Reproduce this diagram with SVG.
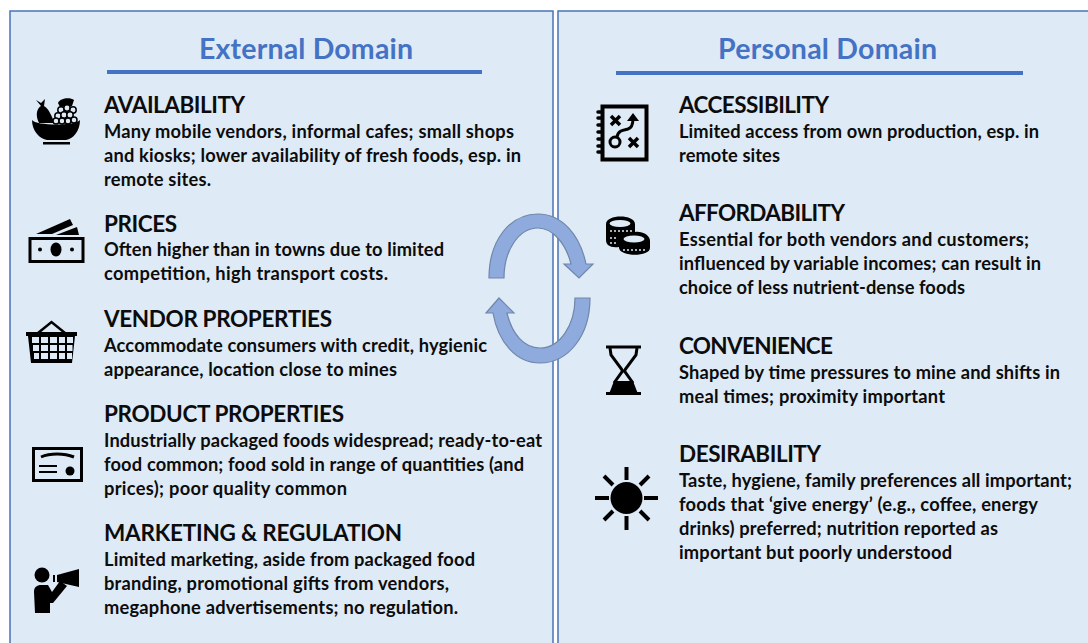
<svg xmlns="http://www.w3.org/2000/svg" width="1088" height="643" viewBox="0 0 1088 643">
<style>
text{font-family:"Lato","Open Sans","Liberation Sans",sans-serif;fill:#0c0c0c}
.t{font-size:28.500px;font-weight:700;fill:#4472c4;text-anchor:middle}
.h{font-size:22.500px;font-weight:700}
.b{font-size:18.300px;font-weight:700}
.p{fill:#deeaf6;stroke:#4a73b8;stroke-width:1.5}
.r{fill:#4472c4}
.a{fill:#8faadc;stroke:#6f87aa;stroke-width:1.2}
.k{fill:#000}
.w{fill:#deeaf6}
.s{fill:none;stroke:#000;stroke-width:3}
.g{fill:#deeaf6;stroke:#000;stroke-width:1.500}
</style>
<rect width="1088" height="643" fill="#fff"/>
<g id="external-panel"><rect class="p" x="10" y="11" width="543" height="640"/>
<text class="t" x="306" y="59" textLength="214">External Domain</text><rect class="r" x="107" y="70" width="375" height="4"/></g>
<g id="personal-panel"><rect class="p" x="558" y="11" width="540" height="640"/>
<text class="t" x="827.500" y="59" textLength="219">Personal Domain</text><rect class="r" x="616" y="71" width="407" height="4"/></g>
<g id="connectors">
<path class="a" d="M489 278C489 240 510 214 538 214C562 214 580 235 586 264L593 264L579 278L564 264L571 264C566 244 553 228 538 228C519 228 504 250 504 278Z"/>
<path class="a" d="M590 298C590 336 568 363 540 363C516 363 498 342 493 313L486 313L499 298L514 313L507 313C512 334 524 348 540 348C560 348 575 325 575 298Z"/>
</g>
<g id="availability">
<path class="k" d="M36 100L41 103L45 99L44 106C50 110 51 116 55 123L39 123C35 115 37 108 41 106Z"/>
<path class="k" d="M58 103C60 98 70 97 74 100L72 106L60 107Z"/>
<circle class="g" cx="61" cy="110" r="3.200"/><circle class="g" cx="67" cy="108" r="3.200"/><circle class="g" cx="73" cy="110" r="3.200"/><circle class="g" cx="58" cy="116" r="3.200"/><circle class="g" cx="64" cy="115" r="3.200"/><circle class="g" cx="70" cy="115" r="3.200"/><circle class="g" cx="56" cy="121" r="3"/><circle class="g" cx="62" cy="121" r="3"/><circle class="g" cx="68" cy="121" r="3"/><circle class="g" cx="74" cy="120" r="3"/>
<path class="k" d="M32 120C36 126 76 126 80 120C80 131 73 139 66 140L47 140C40 139 32 131 32 120Z"/>
<rect class="k" x="43" y="142" width="27" height="2.500"/>
<text class="h" x="104" y="113" textLength="141">AVAILABILITY</text>
<text class="b" x="104" y="138" textLength="410">Many mobile vendors, informal cafes; small shops</text>
<text class="b" x="104" y="162" textLength="417">and kiosks; lower availability of fresh foods, esp. in</text>
<text class="b" x="104" y="186" textLength="107">remote sites.</text>
</g>
<g id="prices">
<rect x="30" y="238.500" width="53" height="23" fill="none" stroke="#000" stroke-width="3"/>
<ellipse class="k" cx="56" cy="249.500" rx="5.500" ry="7"/><circle class="k" cx="40" cy="249.500" r="2"/><circle class="k" cx="72" cy="249.500" r="2"/>
<path class="k" d="M36 234L70 219L73 225L52 234ZM56 235L77 227L79 235Z"/>
<text class="h" x="104" y="232" textLength="73">PRICES</text>
<text class="b" x="104" y="256" textLength="340">Often higher than in towns due to limited</text>
<text class="b" x="104" y="280" textLength="284">competition, high transport costs.</text>
</g>
<g id="vendor-properties">
<path class="k" d="M26 332H77V336H75L72 363H31L28 336H26Z"/>
<g class="w"><rect x="32" y="337" width="7" height="6"/><rect x="41" y="337" width="7" height="6"/><rect x="50" y="337" width="7" height="6"/><rect x="59" y="337" width="6" height="6"/><rect x="67" y="337" width="6" height="6"/><rect x="33" y="345" width="6" height="6"/><rect x="41" y="345" width="7" height="6"/><rect x="50" y="345" width="7" height="6"/><rect x="59" y="345" width="6" height="6"/><rect x="67" y="345" width="5.500" height="6"/><rect x="34" y="353" width="5" height="6"/><rect x="41" y="353" width="7" height="6"/><rect x="50" y="353" width="7" height="6"/><rect x="59" y="353" width="6" height="6"/><rect x="67" y="353" width="5" height="6"/></g>
<path d="M38 333L51.500 322L65 333" fill="none" stroke="#000" stroke-width="2.500"/>
<text class="h" x="104" y="327" textLength="228">VENDOR PROPERTIES</text>
<text class="b" x="104" y="352" textLength="383">Accommodate consumers with credit, hygienic</text>
<text class="b" x="104" y="376" textLength="293">appearance, location close to mines</text>
</g>
<g id="product-properties">
<rect class="s" x="33.500" y="448.500" width="48" height="32"/>
<path d="M41 457C50 453 64 453 74 457" fill="none" stroke="#000" stroke-width="3"/>
<path d="M39 466H57M39 472H57" fill="none" stroke="#000" stroke-width="2"/><circle class="k" cx="70" cy="471" r="4.500"/>
<text class="h" x="104" y="422" textLength="240">PRODUCT PROPERTIES</text>
<text class="b" x="104" y="447" textLength="438">Industrially packaged foods widespread; ready-to-eat</text>
<text class="b" x="104" y="471" textLength="420">food common; food sold in range of quantities (and</text>
<text class="b" x="104" y="495" textLength="243">prices); poor quality common</text>
</g>
<g id="marketing-regulation">
<circle class="k" cx="42" cy="575" r="7.500"/>
<path class="k" d="M34 592C34 587 37 585 41 585H48L52 592L60 581L67 586L53 603L50 603V613H35Z"/>
<path class="k" d="M57 575L79 569V587L57 582ZM53 575H55V582H53Z"/>
<text class="h" x="104" y="541" textLength="298">MARKETING &amp; REGULATION</text>
<text class="b" x="104" y="566" textLength="371">Limited marketing, aside from packaged food</text>
<text class="b" x="104" y="590" textLength="345">branding, promotional gifts from vendors,</text>
<text class="b" x="104" y="614" textLength="354">megaphone advertisements; no regulation.</text>
</g>
<g id="accessibility">
<rect x="602.500" y="106.500" width="44" height="53" fill="none" stroke="#000" stroke-width="4"/>
<path d="M598 112H602M598 118H602M598 125H602M598 132H602M598 139H602M598 146H602M598 152H602" stroke="#000" stroke-width="3.500" stroke-linecap="round"/>
<path d="M611 116L620 125M620 116L611 125M629 138L638 147M638 138L629 147" fill="none" stroke="#000" stroke-width="3.500"/>
<circle cx="615" cy="142" r="5" fill="none" stroke="#000" stroke-width="3"/>
<path d="M617 137C618 130 624 130 628 129C632 128 633 124 633 118" fill="none" stroke="#000" stroke-width="3"/>
<path class="k" d="M633 113L639 121H627Z"/>
<text class="h" x="679" y="113" textLength="150">ACCESSIBILITY</text>
<text class="b" x="679" y="138" textLength="360">Limited access from own production, esp. in</text>
<text class="b" x="679" y="162" textLength="101">remote sites</text>
</g>
<g id="affordability">
<path class="k" d="M606 224C606 214 635 214 635 224V232C642 231 650 235 650 241V248C650 257 620 257 619 248V247C610 248 606 245 606 240Z"/>
<ellipse class="w" cx="620" cy="223.500" rx="10.500" ry="3.500"/><ellipse class="w" cx="634" cy="239" rx="10.500" ry="3.500"/>
<path d="M610 231H632M610 238H618M610 243H618M623 250H647" fill="none" stroke="#deeaf6" stroke-width="1.500" stroke-dasharray="2 2"/>
<text class="h" x="679" y="221" textLength="166">AFFORDABILITY</text>
<text class="b" x="679" y="246" textLength="350">Essential for both vendors and customers;</text>
<text class="b" x="679" y="270" textLength="362">influenced by variable incomes; can result in</text>
<text class="b" x="679" y="294" textLength="286">choice of less nutrient-dense foods</text>
</g>
<g id="convenience">
<path d="M606 347H641M606 393.500H641" stroke="#000" stroke-width="3"/>
<path d="M610 348L611 355L621.500 369L622.500 371L614 383M637 348L636 355L625.500 369L624.500 371L633 383" fill="none" stroke="#000" stroke-width="3"/>
<path class="k" d="M609 394L614 381H633L638 394Z"/>
<text class="h" x="679" y="354" textLength="154">CONVENIENCE</text>
<text class="b" x="679" y="379" textLength="381">Shaped by time pressures to mine and shifts in</text>
<text class="b" x="679" y="403" textLength="266">meal times; proximity important</text>
</g>
<g id="desirability">
<circle class="k" cx="626.500" cy="498" r="16"/>
<path d="M626.500 467V480M626.500 516V530M595 498H609M644 498H658M604 476L613 485M649 476L640 485M604 520L613 511M649 520L640 511" stroke="#000" stroke-width="4"/>
<text class="h" x="679" y="462" textLength="142">DESIRABILITY</text>
<text class="b" x="679" y="487" textLength="393">Taste, hygiene, family preferences all important;</text>
<text class="b" x="679" y="511" textLength="359">foods that ‘give energy’ (e.g., coffee, energy</text>
<text class="b" x="679" y="535" textLength="319">drinks) preferred; nutrition reported as</text>
<text class="b" x="679" y="559" textLength="273">important but poorly understood</text>
</g>
</svg>
